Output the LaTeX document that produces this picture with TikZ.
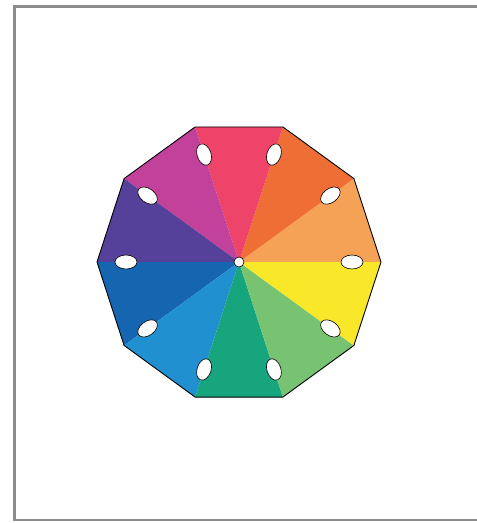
\documentclass[tikz,border=0pt]{standalone}
\usetikzlibrary{calc}
\definecolor{cA}{RGB}{245,162,86}
\definecolor{cB}{RGB}{238,110,54}
\definecolor{cC}{RGB}{238,68,105}
\definecolor{cD}{RGB}{194,65,154}
\definecolor{cE}{RGB}{85,65,154}
\definecolor{cF}{RGB}{21,101,176}
\definecolor{cG}{RGB}{33,144,208}
\definecolor{cH}{RGB}{23,165,126}
\definecolor{cI}{RGB}{120,195,114}
\definecolor{cJ}{RGB}{249,232,42}
\definecolor{frame}{RGB}{140,140,140}
\tikzset{
  hole/.style={draw=black, line width=0.6pt, fill=white},
  rim/.style={draw=black, line width=0.9pt, line join=miter}
}
\begin{document}
\begin{tikzpicture}[x=1pt,y=-1pt]
\useasboundingbox (0,0) rectangle (477,523);
\fill[white] (0,0) rectangle (477,523);
% frame (open on the right)
\draw[frame, line width=2.6pt] (477,6.5) -- (14.5,6.5) -- (14.5,520) -- (477,520);
\coordinate (O) at (239,262);
\foreach \i in {0,...,9} {
  \coordinate (v\i) at ($(O)+({142*cos(36*\i)},{-142*sin(36*\i)})$);
  \coordinate (h\i) at ($(O)+({113*cos(36*\i)},{-113*sin(36*\i)})$);
}
\foreach \i/\c in {0/cA,1/cB,2/cC,3/cD,4/cE,5/cF,6/cG,7/cH,8/cI,9/cJ} {
  \pgfmathtruncatemacro{\j}{mod(\i+1,10)}
  \fill[\c] (O) -- (v\i) -- (v\j) -- cycle;
}
\draw[rim] (v0) -- (v1) -- (v2) -- (v3) -- (v4) -- (v5) -- (v6) -- (v7) -- (v8) -- (v9) -- cycle;
\foreach \i in {0,...,9} {
  \begin{scope}[shift={(h\i)}, rotate=36*\i]
    \draw[hole] (0,0) ellipse [x radius=11, y radius=7];
  \end{scope}
}
\draw[hole] (O) circle [radius=5];
\end{tikzpicture}
\end{document}
